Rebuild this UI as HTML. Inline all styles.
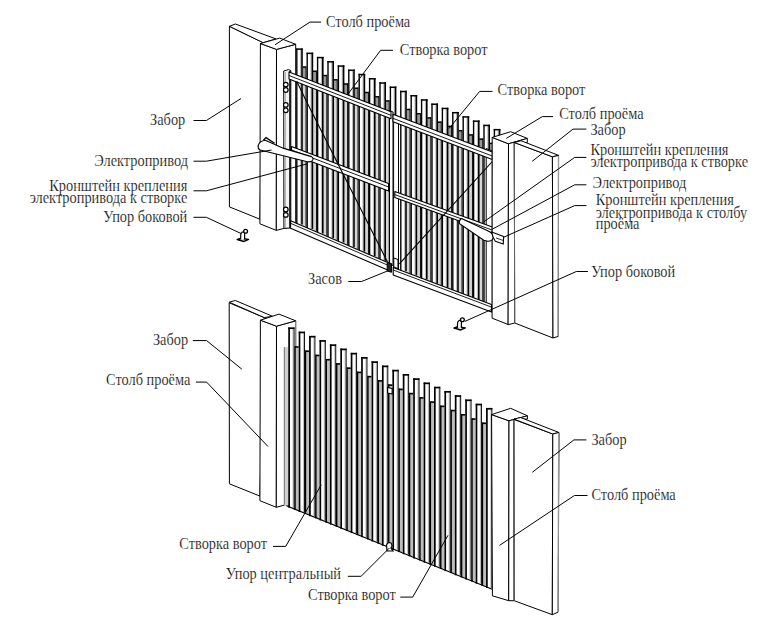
<!DOCTYPE html>
<html><head><meta charset="utf-8"><style>html,body{margin:0;padding:0;background:#fff;overflow:hidden}svg{display:block}</style></head>
<body><svg width="782" height="623" viewBox="0 0 782 623">
<rect width="782" height="623" fill="#fff"/>
<polygon points="229.4,26.3 263.2,42.7 259.9,219.2 229.4,206.9" fill="#fff" stroke="#000" stroke-width="1" stroke-linejoin="round"/>
<polygon points="229.4,26.3 235.4,24 276,38.9 263.2,42.7" fill="#fff" stroke="#000" stroke-width="1" stroke-linejoin="round"/>
<polygon points="260.4,43.5 276.5,49.4 276.3,230.4 259.9,223.8" fill="#fff" stroke="#000" stroke-width="1" stroke-linejoin="round"/>
<polygon points="276.5,49.4 295.7,44.3 295.7,226 283.9,228.4 276.3,230.4" fill="#fff" stroke="#000" stroke-width="1" stroke-linejoin="round"/>
<polygon points="260.4,43.5 279.7,38.1 295.7,44.3 276.5,49.4" fill="#fff" stroke="#000" stroke-width="1" stroke-linejoin="round"/>
<rect x="302.3" y="66.4" width="4.2" height="160.27" fill="#d6d6d6"/>
<rect x="302.3" y="66.4" width="4.2" height="13.79" fill="#999"/>
<line x1="306.3" y1="66.4" x2="306.3" y2="226.67" stroke="#000" stroke-width="1.5"/>
<line x1="302.3" y1="67.1" x2="306.9" y2="67.1" stroke="#000" stroke-width="1.4"/>
<rect x="296.1" y="48.4" width="6.3" height="176" fill="#fff"/>
<rect x="300.1" y="49.4" width="1.4" height="175" fill="#b8b8b8"/>
<line x1="296.8" y1="48.4" x2="296.8" y2="224.4" stroke="#000" stroke-width="1.4"/>
<line x1="302" y1="48.4" x2="302" y2="224.4" stroke="#000" stroke-width="1.6"/>
<line x1="296.1" y1="49.1" x2="302.8" y2="49.1" stroke="#000" stroke-width="1.5"/>
<rect x="312.7" y="70.64" width="4.2" height="160.56" fill="#d6d6d6"/>
<rect x="312.7" y="70.64" width="4.2" height="13.6" fill="#999"/>
<line x1="316.7" y1="70.64" x2="316.7" y2="231.2" stroke="#000" stroke-width="1.5"/>
<line x1="312.7" y1="71.34" x2="317.3" y2="71.34" stroke="#000" stroke-width="1.4"/>
<rect x="306.5" y="52.64" width="6.3" height="176.29" fill="#fff"/>
<rect x="310.5" y="53.64" width="1.4" height="175.29" fill="#b8b8b8"/>
<line x1="307.2" y1="52.64" x2="307.2" y2="228.93" stroke="#000" stroke-width="1.4"/>
<line x1="312.4" y1="52.64" x2="312.4" y2="228.93" stroke="#000" stroke-width="1.6"/>
<line x1="306.5" y1="53.34" x2="313.2" y2="53.34" stroke="#000" stroke-width="1.5"/>
<rect x="323.1" y="74.88" width="4.2" height="160.85" fill="#d6d6d6"/>
<rect x="323.1" y="74.88" width="4.2" height="13.42" fill="#999"/>
<line x1="327.1" y1="74.88" x2="327.1" y2="235.73" stroke="#000" stroke-width="1.5"/>
<line x1="323.1" y1="75.58" x2="327.7" y2="75.58" stroke="#000" stroke-width="1.4"/>
<rect x="316.9" y="56.88" width="6.3" height="176.58" fill="#fff"/>
<rect x="320.9" y="57.88" width="1.4" height="175.58" fill="#b8b8b8"/>
<line x1="317.6" y1="56.88" x2="317.6" y2="233.46" stroke="#000" stroke-width="1.4"/>
<line x1="322.8" y1="56.88" x2="322.8" y2="233.46" stroke="#000" stroke-width="1.6"/>
<line x1="316.9" y1="57.58" x2="323.6" y2="57.58" stroke="#000" stroke-width="1.5"/>
<rect x="333.5" y="79.12" width="4.2" height="161.14" fill="#d6d6d6"/>
<rect x="333.5" y="79.12" width="4.2" height="13.23" fill="#999"/>
<line x1="337.5" y1="79.12" x2="337.5" y2="240.26" stroke="#000" stroke-width="1.5"/>
<line x1="333.5" y1="79.82" x2="338.1" y2="79.82" stroke="#000" stroke-width="1.4"/>
<rect x="327.3" y="61.12" width="6.3" height="176.87" fill="#fff"/>
<rect x="331.3" y="62.12" width="1.4" height="175.87" fill="#b8b8b8"/>
<line x1="328" y1="61.12" x2="328" y2="237.99" stroke="#000" stroke-width="1.4"/>
<line x1="333.2" y1="61.12" x2="333.2" y2="237.99" stroke="#000" stroke-width="1.6"/>
<line x1="327.3" y1="61.82" x2="334" y2="61.82" stroke="#000" stroke-width="1.5"/>
<rect x="343.9" y="83.36" width="4.2" height="161.43" fill="#d6d6d6"/>
<rect x="343.9" y="83.36" width="4.2" height="13.05" fill="#999"/>
<line x1="347.9" y1="83.36" x2="347.9" y2="244.79" stroke="#000" stroke-width="1.5"/>
<line x1="343.9" y1="84.06" x2="348.5" y2="84.06" stroke="#000" stroke-width="1.4"/>
<rect x="337.7" y="65.36" width="6.3" height="177.16" fill="#fff"/>
<rect x="341.7" y="66.36" width="1.4" height="176.16" fill="#b8b8b8"/>
<line x1="338.4" y1="65.36" x2="338.4" y2="242.52" stroke="#000" stroke-width="1.4"/>
<line x1="343.6" y1="65.36" x2="343.6" y2="242.52" stroke="#000" stroke-width="1.6"/>
<line x1="337.7" y1="66.06" x2="344.4" y2="66.06" stroke="#000" stroke-width="1.5"/>
<rect x="354.3" y="87.6" width="4.2" height="161.72" fill="#d6d6d6"/>
<rect x="354.3" y="87.6" width="4.2" height="12.87" fill="#999"/>
<line x1="358.3" y1="87.6" x2="358.3" y2="249.32" stroke="#000" stroke-width="1.5"/>
<line x1="354.3" y1="88.3" x2="358.9" y2="88.3" stroke="#000" stroke-width="1.4"/>
<rect x="348.1" y="69.6" width="6.3" height="177.45" fill="#fff"/>
<rect x="352.1" y="70.6" width="1.4" height="176.45" fill="#b8b8b8"/>
<line x1="348.8" y1="69.6" x2="348.8" y2="247.05" stroke="#000" stroke-width="1.4"/>
<line x1="354" y1="69.6" x2="354" y2="247.05" stroke="#000" stroke-width="1.6"/>
<line x1="348.1" y1="70.3" x2="354.8" y2="70.3" stroke="#000" stroke-width="1.5"/>
<rect x="364.7" y="91.84" width="4.2" height="162.01" fill="#d6d6d6"/>
<rect x="364.7" y="91.84" width="4.2" height="12.68" fill="#999"/>
<line x1="368.7" y1="91.84" x2="368.7" y2="253.85" stroke="#000" stroke-width="1.5"/>
<line x1="364.7" y1="92.54" x2="369.3" y2="92.54" stroke="#000" stroke-width="1.4"/>
<rect x="358.5" y="73.84" width="6.3" height="177.75" fill="#fff"/>
<rect x="362.5" y="74.84" width="1.4" height="176.75" fill="#b8b8b8"/>
<line x1="359.2" y1="73.84" x2="359.2" y2="251.59" stroke="#000" stroke-width="1.4"/>
<line x1="364.4" y1="73.84" x2="364.4" y2="251.59" stroke="#000" stroke-width="1.6"/>
<line x1="358.5" y1="74.54" x2="365.2" y2="74.54" stroke="#000" stroke-width="1.5"/>
<rect x="375.1" y="96.08" width="4.2" height="162.3" fill="#d6d6d6"/>
<rect x="375.1" y="96.08" width="4.2" height="12.5" fill="#999"/>
<line x1="379.1" y1="96.08" x2="379.1" y2="258.38" stroke="#000" stroke-width="1.5"/>
<line x1="375.1" y1="96.78" x2="379.7" y2="96.78" stroke="#000" stroke-width="1.4"/>
<rect x="368.9" y="78.08" width="6.3" height="178.04" fill="#fff"/>
<rect x="372.9" y="79.08" width="1.4" height="177.04" fill="#b8b8b8"/>
<line x1="369.6" y1="78.08" x2="369.6" y2="256.12" stroke="#000" stroke-width="1.4"/>
<line x1="374.8" y1="78.08" x2="374.8" y2="256.12" stroke="#000" stroke-width="1.6"/>
<line x1="368.9" y1="78.78" x2="375.6" y2="78.78" stroke="#000" stroke-width="1.5"/>
<rect x="385.5" y="100.32" width="4.2" height="162.59" fill="#d6d6d6"/>
<rect x="385.5" y="100.32" width="4.2" height="12.31" fill="#999"/>
<line x1="389.5" y1="100.32" x2="389.5" y2="262.91" stroke="#000" stroke-width="1.5"/>
<line x1="385.5" y1="101.02" x2="390.1" y2="101.02" stroke="#000" stroke-width="1.4"/>
<rect x="379.3" y="82.32" width="6.3" height="178.33" fill="#fff"/>
<rect x="383.3" y="83.32" width="1.4" height="177.33" fill="#b8b8b8"/>
<line x1="380" y1="82.32" x2="380" y2="260.65" stroke="#000" stroke-width="1.4"/>
<line x1="385.2" y1="82.32" x2="385.2" y2="260.65" stroke="#000" stroke-width="1.6"/>
<line x1="379.3" y1="83.02" x2="386" y2="83.02" stroke="#000" stroke-width="1.5"/>
<rect x="389.7" y="86.56" width="6.3" height="180.64" fill="#fff"/>
<rect x="393.7" y="87.56" width="1.4" height="179.64" fill="#b8b8b8"/>
<line x1="390.4" y1="86.56" x2="390.4" y2="267.2" stroke="#000" stroke-width="1.4"/>
<line x1="395.6" y1="86.56" x2="395.6" y2="267.2" stroke="#000" stroke-width="1.6"/>
<line x1="389.7" y1="87.26" x2="396.4" y2="87.26" stroke="#000" stroke-width="1.5"/>
<rect x="406.3" y="108.8" width="4.2" height="164.59" fill="#d6d6d6"/>
<rect x="406.3" y="108.8" width="4.2" height="13.45" fill="#999"/>
<line x1="410.3" y1="108.8" x2="410.3" y2="273.39" stroke="#000" stroke-width="1.5"/>
<line x1="406.3" y1="109.5" x2="410.9" y2="109.5" stroke="#000" stroke-width="1.4"/>
<rect x="400.1" y="90.8" width="6.3" height="180.53" fill="#fff"/>
<rect x="404.1" y="91.8" width="1.4" height="179.53" fill="#b8b8b8"/>
<line x1="400.8" y1="90.8" x2="400.8" y2="271.33" stroke="#000" stroke-width="1.4"/>
<line x1="406" y1="90.8" x2="406" y2="271.33" stroke="#000" stroke-width="1.6"/>
<line x1="400.1" y1="91.5" x2="406.8" y2="91.5" stroke="#000" stroke-width="1.5"/>
<rect x="416.7" y="113.04" width="4.2" height="164.48" fill="#d6d6d6"/>
<rect x="416.7" y="113.04" width="4.2" height="13.17" fill="#999"/>
<line x1="420.7" y1="113.04" x2="420.7" y2="277.52" stroke="#000" stroke-width="1.5"/>
<line x1="416.7" y1="113.74" x2="421.3" y2="113.74" stroke="#000" stroke-width="1.4"/>
<rect x="410.5" y="95.04" width="6.3" height="180.41" fill="#fff"/>
<rect x="414.5" y="96.04" width="1.4" height="179.41" fill="#b8b8b8"/>
<line x1="411.2" y1="95.04" x2="411.2" y2="275.45" stroke="#000" stroke-width="1.4"/>
<line x1="416.4" y1="95.04" x2="416.4" y2="275.45" stroke="#000" stroke-width="1.6"/>
<line x1="410.5" y1="95.74" x2="417.2" y2="95.74" stroke="#000" stroke-width="1.5"/>
<rect x="427.1" y="117.28" width="4.2" height="164.36" fill="#d6d6d6"/>
<rect x="427.1" y="117.28" width="4.2" height="12.88" fill="#999"/>
<line x1="431.1" y1="117.28" x2="431.1" y2="281.64" stroke="#000" stroke-width="1.5"/>
<line x1="427.1" y1="117.98" x2="431.7" y2="117.98" stroke="#000" stroke-width="1.4"/>
<rect x="420.9" y="99.28" width="6.3" height="180.3" fill="#fff"/>
<rect x="424.9" y="100.28" width="1.4" height="179.3" fill="#b8b8b8"/>
<line x1="421.6" y1="99.28" x2="421.6" y2="279.58" stroke="#000" stroke-width="1.4"/>
<line x1="426.8" y1="99.28" x2="426.8" y2="279.58" stroke="#000" stroke-width="1.6"/>
<line x1="420.9" y1="99.98" x2="427.6" y2="99.98" stroke="#000" stroke-width="1.5"/>
<rect x="437.5" y="121.52" width="4.2" height="164.25" fill="#d6d6d6"/>
<rect x="437.5" y="121.52" width="4.2" height="12.59" fill="#999"/>
<line x1="441.5" y1="121.52" x2="441.5" y2="285.77" stroke="#000" stroke-width="1.5"/>
<line x1="437.5" y1="122.22" x2="442.1" y2="122.22" stroke="#000" stroke-width="1.4"/>
<rect x="431.3" y="103.52" width="6.3" height="180.19" fill="#fff"/>
<rect x="435.3" y="104.52" width="1.4" height="179.19" fill="#b8b8b8"/>
<line x1="432" y1="103.52" x2="432" y2="283.71" stroke="#000" stroke-width="1.4"/>
<line x1="437.2" y1="103.52" x2="437.2" y2="283.71" stroke="#000" stroke-width="1.6"/>
<line x1="431.3" y1="104.22" x2="438" y2="104.22" stroke="#000" stroke-width="1.5"/>
<rect x="447.9" y="125.76" width="4.2" height="164.14" fill="#d6d6d6"/>
<rect x="447.9" y="125.76" width="4.2" height="12.3" fill="#999"/>
<line x1="451.9" y1="125.76" x2="451.9" y2="289.9" stroke="#000" stroke-width="1.5"/>
<line x1="447.9" y1="126.46" x2="452.5" y2="126.46" stroke="#000" stroke-width="1.4"/>
<rect x="441.7" y="107.76" width="6.3" height="180.07" fill="#fff"/>
<rect x="445.7" y="108.76" width="1.4" height="179.07" fill="#b8b8b8"/>
<line x1="442.4" y1="107.76" x2="442.4" y2="287.83" stroke="#000" stroke-width="1.4"/>
<line x1="447.6" y1="107.76" x2="447.6" y2="287.83" stroke="#000" stroke-width="1.6"/>
<line x1="441.7" y1="108.46" x2="448.4" y2="108.46" stroke="#000" stroke-width="1.5"/>
<rect x="458.3" y="130" width="4.2" height="164.02" fill="#d6d6d6"/>
<rect x="458.3" y="130" width="4.2" height="12.01" fill="#999"/>
<line x1="462.3" y1="130" x2="462.3" y2="294.02" stroke="#000" stroke-width="1.5"/>
<line x1="458.3" y1="130.7" x2="462.9" y2="130.7" stroke="#000" stroke-width="1.4"/>
<rect x="452.1" y="112" width="6.3" height="179.96" fill="#fff"/>
<rect x="456.1" y="113" width="1.4" height="178.96" fill="#b8b8b8"/>
<line x1="452.8" y1="112" x2="452.8" y2="291.96" stroke="#000" stroke-width="1.4"/>
<line x1="458" y1="112" x2="458" y2="291.96" stroke="#000" stroke-width="1.6"/>
<line x1="452.1" y1="112.7" x2="458.8" y2="112.7" stroke="#000" stroke-width="1.5"/>
<rect x="468.7" y="134.24" width="4.2" height="163.91" fill="#d6d6d6"/>
<rect x="468.7" y="134.24" width="4.2" height="11.73" fill="#999"/>
<line x1="472.7" y1="134.24" x2="472.7" y2="298.15" stroke="#000" stroke-width="1.5"/>
<line x1="468.7" y1="134.94" x2="473.3" y2="134.94" stroke="#000" stroke-width="1.4"/>
<rect x="462.5" y="116.24" width="6.3" height="179.84" fill="#fff"/>
<rect x="466.5" y="117.24" width="1.4" height="178.84" fill="#b8b8b8"/>
<line x1="463.2" y1="116.24" x2="463.2" y2="296.08" stroke="#000" stroke-width="1.4"/>
<line x1="468.4" y1="116.24" x2="468.4" y2="296.08" stroke="#000" stroke-width="1.6"/>
<line x1="462.5" y1="116.94" x2="469.2" y2="116.94" stroke="#000" stroke-width="1.5"/>
<rect x="479.1" y="138.48" width="4.2" height="163.79" fill="#d6d6d6"/>
<rect x="479.1" y="138.48" width="4.2" height="11.44" fill="#999"/>
<line x1="483.1" y1="138.48" x2="483.1" y2="302.27" stroke="#000" stroke-width="1.5"/>
<line x1="479.1" y1="139.18" x2="483.7" y2="139.18" stroke="#000" stroke-width="1.4"/>
<rect x="472.9" y="120.48" width="6.3" height="179.73" fill="#fff"/>
<rect x="476.9" y="121.48" width="1.4" height="178.73" fill="#b8b8b8"/>
<line x1="473.6" y1="120.48" x2="473.6" y2="300.21" stroke="#000" stroke-width="1.4"/>
<line x1="478.8" y1="120.48" x2="478.8" y2="300.21" stroke="#000" stroke-width="1.6"/>
<line x1="472.9" y1="121.18" x2="479.6" y2="121.18" stroke="#000" stroke-width="1.5"/>
<rect x="489.5" y="142.72" width="4.2" height="163.68" fill="#d6d6d6"/>
<rect x="489.5" y="142.72" width="4.2" height="11.15" fill="#999"/>
<line x1="493.5" y1="142.72" x2="493.5" y2="306.4" stroke="#000" stroke-width="1.5"/>
<line x1="489.5" y1="143.42" x2="494.1" y2="143.42" stroke="#000" stroke-width="1.4"/>
<rect x="483.3" y="124.72" width="6.3" height="179.62" fill="#fff"/>
<rect x="487.3" y="125.72" width="1.4" height="178.62" fill="#b8b8b8"/>
<line x1="484" y1="124.72" x2="484" y2="304.34" stroke="#000" stroke-width="1.4"/>
<line x1="489.2" y1="124.72" x2="489.2" y2="304.34" stroke="#000" stroke-width="1.6"/>
<line x1="483.3" y1="125.42" x2="490" y2="125.42" stroke="#000" stroke-width="1.5"/>
<rect x="493.7" y="128.96" width="6.3" height="179.5" fill="#fff"/>
<rect x="497.7" y="129.96" width="1.4" height="178.5" fill="#b8b8b8"/>
<line x1="494.4" y1="128.96" x2="494.4" y2="308.46" stroke="#000" stroke-width="1.4"/>
<line x1="499.6" y1="128.96" x2="499.6" y2="308.46" stroke="#000" stroke-width="1.6"/>
<line x1="493.7" y1="129.66" x2="500.4" y2="129.66" stroke="#000" stroke-width="1.5"/>
<polygon points="283.7,71 288.5,69.6 290.8,70.5 290.8,228 283.9,228.4" fill="#f4f4f4" stroke="#000" stroke-width="1" stroke-linejoin="round"/>
<line x1="289.9" y1="71" x2="289.9" y2="228" stroke="#000" stroke-width="1.4"/>
<line x1="285.5" y1="72" x2="285.5" y2="228" stroke="#999" stroke-width="0.7"/>
<circle cx="285.8" cy="84.6" r="2.3" fill="#fff" stroke="#000" stroke-width="1.2"/>
<circle cx="285.8" cy="90" r="2.3" fill="#fff" stroke="#000" stroke-width="1.2"/>
<circle cx="285.8" cy="104.9" r="2.3" fill="#fff" stroke="#000" stroke-width="1.2"/>
<circle cx="285.8" cy="110.3" r="2.3" fill="#fff" stroke="#000" stroke-width="1.2"/>
<circle cx="285.8" cy="209.5" r="2.3" fill="#fff" stroke="#000" stroke-width="1.2"/>
<circle cx="285.8" cy="214.9" r="2.3" fill="#fff" stroke="#000" stroke-width="1.2"/>
<polygon points="389.5,110.5 393,112 393,265.5 389.5,264" fill="#fff" stroke="#000" stroke-width="1" stroke-linejoin="round"/>
<polygon points="393.6,114.5 398.5,116.5 398.5,270 393.6,268" fill="#fff" stroke="#000" stroke-width="1" stroke-linejoin="round"/>
<polygon points="486.2,148.5 492.3,151 492.3,307 486.2,304.5" fill="#fff" stroke="#000" stroke-width="1" stroke-linejoin="round"/>
<polygon points="289,72 391,111.8 391,118.8 289,79" fill="#fff" stroke="#000" stroke-width="1.1" stroke-linejoin="round"/>
<line x1="289" y1="75.5" x2="391" y2="115.3" stroke="#000" stroke-width="0.9"/>
<polygon points="393,114.2 492.3,151.9 492.3,159.4 393,121.7" fill="#fff" stroke="#000" stroke-width="1.1" stroke-linejoin="round"/>
<line x1="393" y1="118.33" x2="492.3" y2="156.03" stroke="#000" stroke-width="0.9"/>
<polygon points="291.5,146.6 388.6,183.6 388.6,191.1 291.5,154.1" fill="#fff" stroke="#000" stroke-width="1.1" stroke-linejoin="round"/>
<line x1="291.5" y1="149.97" x2="388.6" y2="186.97" stroke="#000" stroke-width="0.9"/>
<polygon points="394.8,191.6 492.3,227.1 492.3,233.1 394.8,197.6" fill="#fff" stroke="#000" stroke-width="1.1" stroke-linejoin="round"/>
<line x1="394.8" y1="194.6" x2="492.3" y2="230.1" stroke="#000" stroke-width="0.9"/>
<polygon points="290.6,220.7 390,263.5 390,271 290.6,228.2" fill="#fff" stroke="#000" stroke-width="1.1" stroke-linejoin="round"/>
<line x1="290.6" y1="223.32" x2="390" y2="266.12" stroke="#000" stroke-width="0.9"/>
<polygon points="393.2,267.4 491.5,304.5 491.5,312 393.2,274.9" fill="#fff" stroke="#000" stroke-width="1.1" stroke-linejoin="round"/>
<line x1="393.2" y1="270.02" x2="491.5" y2="307.12" stroke="#000" stroke-width="0.9"/>
<polyline points="296.7,81.2 306,100.4 387.5,262" fill="none" stroke="#000" stroke-width="1.1"/>
<line x1="399.4" y1="263.8" x2="492.3" y2="161.5" stroke="#000" stroke-width="1.1"/>
<path d="M265.3,140.2 L283.8,148.4 L311.4,156.6 Q314,158.5 312.5,160.5 Q311,162.3 307.3,161.7 L260.2,150 Q257.5,148.5 258.2,145.5 Q259.5,141 265.3,140.2 Z" fill="#fff" stroke="#000" stroke-width="1.1"/>
<polyline points="263.5,140 266,137.6 274.6,143.3" fill="none" stroke="#000" stroke-width="1.3"/>
<polygon points="387.2,262.5 391.5,263.5 391.5,272.3 387.2,271" fill="#222" stroke="#000" stroke-width="1" stroke-linejoin="round"/>
<polygon points="393.8,258 398,259.5 398,268.5 393.8,267" fill="#fff" stroke="#000" stroke-width="1" stroke-linejoin="round"/>
<polygon points="492.2,137.4 508.5,143.8 508.2,324.5 492.1,318.2" fill="#fff" stroke="#000" stroke-width="1" stroke-linejoin="round"/>
<polygon points="492.2,137.4 510.7,131.7 527.3,138.4 508.5,143.8" fill="#fff" stroke="#000" stroke-width="1" stroke-linejoin="round"/>
<polygon points="508.5,143.8 527.3,138.4 527.3,142.5 514.3,142.5 514.7,323 508.1,324.7" fill="#fff" stroke="#000" stroke-width="1" stroke-linejoin="round"/>
<polygon points="514.3,142.5 552.4,156.8 553,338 514.7,323" fill="#fff" stroke="#000" stroke-width="1" stroke-linejoin="round"/>
<polygon points="514.3,142.5 521,140.7 558.6,155.4 552.4,156.8" fill="#fff" stroke="#000" stroke-width="1" stroke-linejoin="round"/>
<polygon points="552.4,156.8 558.6,155.4 558.2,336.4 553,338" fill="#fff" stroke="#000" stroke-width="1" stroke-linejoin="round"/>
<line x1="514.3" y1="143" x2="514.7" y2="323" stroke="#666" stroke-width="1"/>
<line x1="558.4" y1="156" x2="558.2" y2="336" stroke="#999" stroke-width="1.2"/>
<path d="M461.5,218.6 L488.2,231 Q493.6,233.6 493.2,237.6 Q492.3,241.3 487.8,241.2 L483.8,240.3 L459.2,223.4 Q459,220 461.5,218.6 Z" fill="#fff" stroke="#000" stroke-width="1.1"/>
<polygon points="491.6,231.9 503.7,236.5 503.2,244.1 495.3,241.3 493.2,237.6" fill="#fff" stroke="#000" stroke-width="1.1" stroke-linejoin="round"/>
<line x1="496" y1="238" x2="503.4" y2="240.5" stroke="#000" stroke-width="0.8"/>
<polygon points="237.2,239.6 240.7,238.2 248.5,239.4 244,241.4" fill="#fff" stroke="#000" stroke-width="1.5" stroke-linejoin="round"/>
<path d="M240.6,239.2 L240.8,234 Q241.7,231.6 243.7,231.6 L244.6,233 L244.6,239.4" fill="#fff" stroke="#000" stroke-width="1.2"/>
<circle cx="245.6" cy="231.3" r="1.9" fill="#fff" stroke="#000" stroke-width="1.3"/>
<polygon points="454,328.1 457.5,326.7 465.3,327.9 460.8,329.9" fill="#fff" stroke="#000" stroke-width="1.5" stroke-linejoin="round"/>
<path d="M457.4,327.7 L457.6,322.5 Q458.5,320.1 460.5,320.1 L461.4,321.5 L461.4,327.9" fill="#fff" stroke="#000" stroke-width="1.2"/>
<circle cx="462.4" cy="319.8" r="1.9" fill="#fff" stroke="#000" stroke-width="1.3"/>
<polygon points="229.2,302.8 264.3,317.6 259.9,496.1 229.4,483.8" fill="#fff" stroke="#000" stroke-width="1" stroke-linejoin="round"/>
<polygon points="229.2,302.2 235.4,300.5 272.6,316.3 264.3,317.6" fill="#fff" stroke="#000" stroke-width="1" stroke-linejoin="round"/>
<polygon points="260.4,320.2 276.5,326.2 276.3,507.3 259.9,500.7" fill="#fff" stroke="#000" stroke-width="1" stroke-linejoin="round"/>
<polygon points="276.5,326.2 295.7,320.8 295.7,505 285.5,504.8 276.3,507.3" fill="#fff" stroke="#000" stroke-width="1" stroke-linejoin="round"/>
<line x1="295.7" y1="321" x2="295.7" y2="346" stroke="#999" stroke-width="1"/>
<polygon points="260.4,320.2 279,314.1 295.7,320.8 276.5,326.2" fill="#fff" stroke="#000" stroke-width="1" stroke-linejoin="round"/>
<rect x="284" y="347.1" width="4" height="158.5" fill="#d0d0d0"/>
<line x1="284.3" y1="347.1" x2="284.3" y2="504.79" stroke="#666" stroke-width="0.9"/>
<rect x="294.3" y="346.2" width="4.4" height="163.57" fill="#bdbdbd"/>
<line x1="294.9" y1="346.2" x2="294.9" y2="509.77" stroke="#000" stroke-width="1.7"/>
<line x1="294.3" y1="347" x2="298.9" y2="347" stroke="#000" stroke-width="1.6"/>
<rect x="288.3" y="327.4" width="6" height="180.35" fill="#fff"/>
<rect x="292.5" y="328.4" width="1.2" height="179.35" fill="#c0c0c0"/>
<line x1="289.1" y1="327.4" x2="289.1" y2="507.75" stroke="#000" stroke-width="1.7"/>
<line x1="294.1" y1="327.4" x2="294.1" y2="507.75" stroke="#111" stroke-width="1.0"/>
<line x1="288.3" y1="328.2" x2="294.5" y2="328.2" stroke="#000" stroke-width="1.7"/>
<rect x="304.71" y="350.44" width="4.4" height="163.55" fill="#bdbdbd"/>
<line x1="305.31" y1="350.44" x2="305.31" y2="513.99" stroke="#000" stroke-width="1.7"/>
<line x1="304.71" y1="351.24" x2="309.31" y2="351.24" stroke="#000" stroke-width="1.6"/>
<rect x="298.71" y="331.64" width="6" height="180.33" fill="#fff"/>
<rect x="302.91" y="332.64" width="1.2" height="179.33" fill="#c0c0c0"/>
<line x1="299.51" y1="331.64" x2="299.51" y2="511.97" stroke="#000" stroke-width="1.7"/>
<line x1="304.51" y1="331.64" x2="304.51" y2="511.97" stroke="#111" stroke-width="1.0"/>
<line x1="298.71" y1="332.44" x2="304.91" y2="332.44" stroke="#000" stroke-width="1.7"/>
<rect x="315.12" y="354.68" width="4.4" height="163.53" fill="#bdbdbd"/>
<line x1="315.72" y1="354.68" x2="315.72" y2="518.21" stroke="#000" stroke-width="1.7"/>
<line x1="315.12" y1="355.48" x2="319.72" y2="355.48" stroke="#000" stroke-width="1.6"/>
<rect x="309.12" y="335.88" width="6" height="180.31" fill="#fff"/>
<rect x="313.32" y="336.88" width="1.2" height="179.31" fill="#c0c0c0"/>
<line x1="309.92" y1="335.88" x2="309.92" y2="516.19" stroke="#000" stroke-width="1.7"/>
<line x1="314.92" y1="335.88" x2="314.92" y2="516.19" stroke="#111" stroke-width="1.0"/>
<line x1="309.12" y1="336.68" x2="315.32" y2="336.68" stroke="#000" stroke-width="1.7"/>
<rect x="325.53" y="358.92" width="4.4" height="163.52" fill="#bdbdbd"/>
<line x1="326.13" y1="358.92" x2="326.13" y2="522.44" stroke="#000" stroke-width="1.7"/>
<line x1="325.53" y1="359.72" x2="330.13" y2="359.72" stroke="#000" stroke-width="1.6"/>
<rect x="319.53" y="340.12" width="6" height="180.29" fill="#fff"/>
<rect x="323.73" y="341.12" width="1.2" height="179.29" fill="#c0c0c0"/>
<line x1="320.33" y1="340.12" x2="320.33" y2="520.41" stroke="#000" stroke-width="1.7"/>
<line x1="325.33" y1="340.12" x2="325.33" y2="520.41" stroke="#111" stroke-width="1.0"/>
<line x1="319.53" y1="340.92" x2="325.73" y2="340.92" stroke="#000" stroke-width="1.7"/>
<rect x="335.94" y="363.16" width="4.4" height="163.5" fill="#bdbdbd"/>
<line x1="336.54" y1="363.16" x2="336.54" y2="526.66" stroke="#000" stroke-width="1.7"/>
<line x1="335.94" y1="363.96" x2="340.54" y2="363.96" stroke="#000" stroke-width="1.6"/>
<rect x="329.94" y="344.36" width="6" height="180.27" fill="#fff"/>
<rect x="334.14" y="345.36" width="1.2" height="179.27" fill="#c0c0c0"/>
<line x1="330.74" y1="344.36" x2="330.74" y2="524.63" stroke="#000" stroke-width="1.7"/>
<line x1="335.74" y1="344.36" x2="335.74" y2="524.63" stroke="#111" stroke-width="1.0"/>
<line x1="329.94" y1="345.16" x2="336.14" y2="345.16" stroke="#000" stroke-width="1.7"/>
<rect x="346.35" y="367.4" width="4.4" height="163.48" fill="#bdbdbd"/>
<line x1="346.95" y1="367.4" x2="346.95" y2="530.88" stroke="#000" stroke-width="1.7"/>
<line x1="346.35" y1="368.2" x2="350.95" y2="368.2" stroke="#000" stroke-width="1.6"/>
<rect x="340.35" y="348.6" width="6" height="180.25" fill="#fff"/>
<rect x="344.55" y="349.6" width="1.2" height="179.25" fill="#c0c0c0"/>
<line x1="341.15" y1="348.6" x2="341.15" y2="528.85" stroke="#000" stroke-width="1.7"/>
<line x1="346.15" y1="348.6" x2="346.15" y2="528.85" stroke="#111" stroke-width="1.0"/>
<line x1="340.35" y1="349.4" x2="346.55" y2="349.4" stroke="#000" stroke-width="1.7"/>
<rect x="356.76" y="371.64" width="4.4" height="163.46" fill="#bdbdbd"/>
<line x1="357.36" y1="371.64" x2="357.36" y2="535.1" stroke="#000" stroke-width="1.7"/>
<line x1="356.76" y1="372.44" x2="361.36" y2="372.44" stroke="#000" stroke-width="1.6"/>
<rect x="350.76" y="352.84" width="6" height="180.23" fill="#fff"/>
<rect x="354.96" y="353.84" width="1.2" height="179.23" fill="#c0c0c0"/>
<line x1="351.56" y1="352.84" x2="351.56" y2="533.07" stroke="#000" stroke-width="1.7"/>
<line x1="356.56" y1="352.84" x2="356.56" y2="533.07" stroke="#111" stroke-width="1.0"/>
<line x1="350.76" y1="353.64" x2="356.96" y2="353.64" stroke="#000" stroke-width="1.7"/>
<rect x="367.17" y="375.88" width="4.4" height="163.44" fill="#bdbdbd"/>
<line x1="367.77" y1="375.88" x2="367.77" y2="539.32" stroke="#000" stroke-width="1.7"/>
<line x1="367.17" y1="376.68" x2="371.77" y2="376.68" stroke="#000" stroke-width="1.6"/>
<rect x="361.17" y="357.08" width="6" height="180.21" fill="#fff"/>
<rect x="365.37" y="358.08" width="1.2" height="179.21" fill="#c0c0c0"/>
<line x1="361.97" y1="357.08" x2="361.97" y2="537.29" stroke="#000" stroke-width="1.7"/>
<line x1="366.97" y1="357.08" x2="366.97" y2="537.29" stroke="#111" stroke-width="1.0"/>
<line x1="361.17" y1="357.88" x2="367.37" y2="357.88" stroke="#000" stroke-width="1.7"/>
<rect x="377.58" y="380.12" width="4.4" height="163.42" fill="#bdbdbd"/>
<line x1="378.18" y1="380.12" x2="378.18" y2="543.54" stroke="#000" stroke-width="1.7"/>
<line x1="377.58" y1="380.92" x2="382.18" y2="380.92" stroke="#000" stroke-width="1.6"/>
<rect x="371.58" y="361.32" width="6" height="180.19" fill="#fff"/>
<rect x="375.78" y="362.32" width="1.2" height="179.19" fill="#c0c0c0"/>
<line x1="372.38" y1="361.32" x2="372.38" y2="541.51" stroke="#000" stroke-width="1.7"/>
<line x1="377.38" y1="361.32" x2="377.38" y2="541.51" stroke="#111" stroke-width="1.0"/>
<line x1="371.58" y1="362.12" x2="377.78" y2="362.12" stroke="#000" stroke-width="1.7"/>
<rect x="387.99" y="384.36" width="4.4" height="163.4" fill="#bdbdbd"/>
<line x1="388.59" y1="384.36" x2="388.59" y2="547.76" stroke="#000" stroke-width="1.7"/>
<line x1="387.99" y1="385.16" x2="392.59" y2="385.16" stroke="#000" stroke-width="1.6"/>
<rect x="381.99" y="365.56" width="6" height="180.17" fill="#fff"/>
<rect x="386.19" y="366.56" width="1.2" height="179.17" fill="#c0c0c0"/>
<line x1="382.79" y1="365.56" x2="382.79" y2="545.73" stroke="#000" stroke-width="1.7"/>
<line x1="387.79" y1="365.56" x2="387.79" y2="545.73" stroke="#111" stroke-width="1.0"/>
<line x1="381.99" y1="366.36" x2="388.19" y2="366.36" stroke="#000" stroke-width="1.7"/>
<rect x="398.4" y="388.6" width="4.4" height="163.38" fill="#bdbdbd"/>
<line x1="399" y1="388.6" x2="399" y2="551.98" stroke="#000" stroke-width="1.7"/>
<line x1="398.4" y1="389.4" x2="403" y2="389.4" stroke="#000" stroke-width="1.6"/>
<rect x="392.4" y="369.8" width="6" height="180.15" fill="#fff"/>
<rect x="396.6" y="370.8" width="1.2" height="179.15" fill="#c0c0c0"/>
<line x1="393.2" y1="369.8" x2="393.2" y2="549.95" stroke="#000" stroke-width="1.7"/>
<line x1="398.2" y1="369.8" x2="398.2" y2="549.95" stroke="#111" stroke-width="1.0"/>
<line x1="392.4" y1="370.6" x2="398.6" y2="370.6" stroke="#000" stroke-width="1.7"/>
<rect x="408.81" y="392.84" width="4.4" height="163.36" fill="#bdbdbd"/>
<line x1="409.41" y1="392.84" x2="409.41" y2="556.2" stroke="#000" stroke-width="1.7"/>
<line x1="408.81" y1="393.64" x2="413.41" y2="393.64" stroke="#000" stroke-width="1.6"/>
<rect x="402.81" y="374.04" width="6" height="180.13" fill="#fff"/>
<rect x="407.01" y="375.04" width="1.2" height="179.13" fill="#c0c0c0"/>
<line x1="403.61" y1="374.04" x2="403.61" y2="554.17" stroke="#000" stroke-width="1.7"/>
<line x1="408.61" y1="374.04" x2="408.61" y2="554.17" stroke="#111" stroke-width="1.0"/>
<line x1="402.81" y1="374.84" x2="409.01" y2="374.84" stroke="#000" stroke-width="1.7"/>
<rect x="419.22" y="397.08" width="4.4" height="163.34" fill="#bdbdbd"/>
<line x1="419.82" y1="397.08" x2="419.82" y2="560.42" stroke="#000" stroke-width="1.7"/>
<line x1="419.22" y1="397.88" x2="423.82" y2="397.88" stroke="#000" stroke-width="1.6"/>
<rect x="413.22" y="378.28" width="6" height="180.11" fill="#fff"/>
<rect x="417.42" y="379.28" width="1.2" height="179.11" fill="#c0c0c0"/>
<line x1="414.02" y1="378.28" x2="414.02" y2="558.39" stroke="#000" stroke-width="1.7"/>
<line x1="419.02" y1="378.28" x2="419.02" y2="558.39" stroke="#111" stroke-width="1.0"/>
<line x1="413.22" y1="379.08" x2="419.42" y2="379.08" stroke="#000" stroke-width="1.7"/>
<rect x="429.63" y="401.32" width="4.4" height="163.32" fill="#bdbdbd"/>
<line x1="430.23" y1="401.32" x2="430.23" y2="564.64" stroke="#000" stroke-width="1.7"/>
<line x1="429.63" y1="402.12" x2="434.23" y2="402.12" stroke="#000" stroke-width="1.6"/>
<rect x="423.63" y="382.52" width="6" height="180.09" fill="#fff"/>
<rect x="427.83" y="383.52" width="1.2" height="179.09" fill="#c0c0c0"/>
<line x1="424.43" y1="382.52" x2="424.43" y2="562.61" stroke="#000" stroke-width="1.7"/>
<line x1="429.43" y1="382.52" x2="429.43" y2="562.61" stroke="#111" stroke-width="1.0"/>
<line x1="423.63" y1="383.32" x2="429.83" y2="383.32" stroke="#000" stroke-width="1.7"/>
<rect x="440.04" y="405.56" width="4.4" height="163.3" fill="#bdbdbd"/>
<line x1="440.64" y1="405.56" x2="440.64" y2="568.86" stroke="#000" stroke-width="1.7"/>
<line x1="440.04" y1="406.36" x2="444.64" y2="406.36" stroke="#000" stroke-width="1.6"/>
<rect x="434.04" y="386.76" width="6" height="180.08" fill="#fff"/>
<rect x="438.24" y="387.76" width="1.2" height="179.08" fill="#c0c0c0"/>
<line x1="434.84" y1="386.76" x2="434.84" y2="566.84" stroke="#000" stroke-width="1.7"/>
<line x1="439.84" y1="386.76" x2="439.84" y2="566.84" stroke="#111" stroke-width="1.0"/>
<line x1="434.04" y1="387.56" x2="440.24" y2="387.56" stroke="#000" stroke-width="1.7"/>
<rect x="450.45" y="409.8" width="4.4" height="163.28" fill="#bdbdbd"/>
<line x1="451.05" y1="409.8" x2="451.05" y2="573.08" stroke="#000" stroke-width="1.7"/>
<line x1="450.45" y1="410.6" x2="455.05" y2="410.6" stroke="#000" stroke-width="1.6"/>
<rect x="444.45" y="391" width="6" height="180.06" fill="#fff"/>
<rect x="448.65" y="392" width="1.2" height="179.06" fill="#c0c0c0"/>
<line x1="445.25" y1="391" x2="445.25" y2="571.06" stroke="#000" stroke-width="1.7"/>
<line x1="450.25" y1="391" x2="450.25" y2="571.06" stroke="#111" stroke-width="1.0"/>
<line x1="444.45" y1="391.8" x2="450.65" y2="391.8" stroke="#000" stroke-width="1.7"/>
<rect x="460.86" y="414.04" width="4.4" height="163.26" fill="#bdbdbd"/>
<line x1="461.46" y1="414.04" x2="461.46" y2="577.3" stroke="#000" stroke-width="1.7"/>
<line x1="460.86" y1="414.84" x2="465.46" y2="414.84" stroke="#000" stroke-width="1.6"/>
<rect x="454.86" y="395.24" width="6" height="180.04" fill="#fff"/>
<rect x="459.06" y="396.24" width="1.2" height="179.04" fill="#c0c0c0"/>
<line x1="455.66" y1="395.24" x2="455.66" y2="575.28" stroke="#000" stroke-width="1.7"/>
<line x1="460.66" y1="395.24" x2="460.66" y2="575.28" stroke="#111" stroke-width="1.0"/>
<line x1="454.86" y1="396.04" x2="461.06" y2="396.04" stroke="#000" stroke-width="1.7"/>
<rect x="471.27" y="418.28" width="4.4" height="163.24" fill="#bdbdbd"/>
<line x1="471.87" y1="418.28" x2="471.87" y2="581.52" stroke="#000" stroke-width="1.7"/>
<line x1="471.27" y1="419.08" x2="475.87" y2="419.08" stroke="#000" stroke-width="1.6"/>
<rect x="465.27" y="399.48" width="6" height="180.02" fill="#fff"/>
<rect x="469.47" y="400.48" width="1.2" height="179.02" fill="#c0c0c0"/>
<line x1="466.07" y1="399.48" x2="466.07" y2="579.5" stroke="#000" stroke-width="1.7"/>
<line x1="471.07" y1="399.48" x2="471.07" y2="579.5" stroke="#111" stroke-width="1.0"/>
<line x1="465.27" y1="400.28" x2="471.47" y2="400.28" stroke="#000" stroke-width="1.7"/>
<rect x="481.68" y="422.52" width="4.4" height="163.23" fill="#bdbdbd"/>
<line x1="482.28" y1="422.52" x2="482.28" y2="585.75" stroke="#000" stroke-width="1.7"/>
<line x1="481.68" y1="423.32" x2="486.28" y2="423.32" stroke="#000" stroke-width="1.6"/>
<rect x="475.68" y="403.72" width="6" height="180" fill="#fff"/>
<rect x="479.88" y="404.72" width="1.2" height="179" fill="#c0c0c0"/>
<line x1="476.48" y1="403.72" x2="476.48" y2="583.72" stroke="#000" stroke-width="1.7"/>
<line x1="481.48" y1="403.72" x2="481.48" y2="583.72" stroke="#111" stroke-width="1.0"/>
<line x1="475.68" y1="404.52" x2="481.88" y2="404.52" stroke="#000" stroke-width="1.7"/>
<rect x="486.09" y="407.96" width="6" height="179.98" fill="#fff"/>
<rect x="490.29" y="408.96" width="1.2" height="178.98" fill="#c0c0c0"/>
<line x1="486.89" y1="407.96" x2="486.89" y2="587.94" stroke="#000" stroke-width="1.7"/>
<line x1="491.89" y1="407.96" x2="491.89" y2="587.94" stroke="#111" stroke-width="1.0"/>
<line x1="486.09" y1="408.76" x2="492.29" y2="408.76" stroke="#000" stroke-width="1.7"/>
<line x1="286.5" y1="505.8" x2="492.2" y2="589.2" stroke="#000" stroke-width="1.2"/>
<polygon points="491.6,414.6 509,420.8 508.7,600.7 492.4,595.8" fill="#fff" stroke="#000" stroke-width="1" stroke-linejoin="round"/>
<polygon points="491.6,414.6 510.7,408.3 527.4,415.8 509,420.8" fill="#fff" stroke="#000" stroke-width="1" stroke-linejoin="round"/>
<polygon points="509,420.8 527.4,415.8 527.4,419.1 514,419.1 514.2,600.7 508.7,600.7" fill="#fff" stroke="#000" stroke-width="1" stroke-linejoin="round"/>
<polygon points="514,419.5 552.8,434 552.3,614.7 514.2,600.7" fill="#fff" stroke="#000" stroke-width="1" stroke-linejoin="round"/>
<polygon points="514,419.1 520.5,417.5 559,432.5 552.8,434" fill="#fff" stroke="#000" stroke-width="1" stroke-linejoin="round"/>
<polygon points="552.8,434 559,432.5 558.1,612.1 552.3,614.7" fill="#fff" stroke="#000" stroke-width="1" stroke-linejoin="round"/>
<line x1="514" y1="420" x2="514.2" y2="600.7" stroke="#666" stroke-width="1"/>
<line x1="558.6" y1="433" x2="558.1" y2="612" stroke="#999" stroke-width="1.2"/>
<polygon points="387.6,387.5 392.2,388.5 392.2,394 387.6,393" fill="#fff" stroke="#000" stroke-width="1.2" stroke-linejoin="round"/>
<path d="M386.5,545 Q388,541.5 391,543 Q393,546 391,548 L393,551 L387,551 Z" fill="#fff" stroke="#000" stroke-width="1.2"/>
<polyline points="275,44.8 309.9,22.1 321.1,22.1" fill="none" stroke="#000" stroke-width="1"/>
<polyline points="348.3,93.7 380.6,50.3 393,50.3" fill="none" stroke="#000" stroke-width="1"/>
<polyline points="449,128.5 479.7,91.4 492.5,91.4" fill="none" stroke="#000" stroke-width="1"/>
<polyline points="506.3,138.4 542.3,116.6 553.1,116.6" fill="none" stroke="#000" stroke-width="1"/>
<polyline points="532.2,161.3 573,129.1 586.4,129.1" fill="none" stroke="#000" stroke-width="1"/>
<polyline points="483.6,222 574.7,157.4 586.4,157.4" fill="none" stroke="#000" stroke-width="1"/>
<polyline points="492.3,229.2 574.7,184.8 586.4,184.8" fill="none" stroke="#000" stroke-width="1"/>
<polyline points="503.8,237.2 574.7,205.6 586.4,205.6" fill="none" stroke="#000" stroke-width="1"/>
<polyline points="464.9,321.4 576.3,271.5 587.9,271.5" fill="none" stroke="#000" stroke-width="1"/>
<polyline points="241,98.5 206.4,120.5 193.5,120.5" fill="none" stroke="#000" stroke-width="1"/>
<polyline points="271.5,150 206.4,161.2 193.5,161.2" fill="none" stroke="#000" stroke-width="1"/>
<polyline points="307.3,163.8 206.4,190.8 193.5,190.8" fill="none" stroke="#000" stroke-width="1"/>
<polyline points="241.2,233.6 206.4,217.3 193.5,217.3" fill="none" stroke="#000" stroke-width="1"/>
<polyline points="388.2,270.7 361.6,281.5 348.3,281.5" fill="none" stroke="#000" stroke-width="1"/>
<polyline points="241.9,369.2 206.6,340.6 192.8,340.6" fill="none" stroke="#000" stroke-width="1"/>
<polyline points="268,446.5 206.6,382.1 195.9,382.1" fill="none" stroke="#000" stroke-width="1"/>
<polyline points="532.3,472.3 573.9,439.9 586.4,439.9" fill="none" stroke="#000" stroke-width="1"/>
<polyline points="499.5,545.4 574.4,495.5 587.5,495.5" fill="none" stroke="#000" stroke-width="1"/>
<polyline points="321.2,484.9 285.7,546.4 273,546.4" fill="none" stroke="#000" stroke-width="1"/>
<polyline points="389.4,548 361.1,576.3 347.8,576.3" fill="none" stroke="#000" stroke-width="1"/>
<polyline points="448,535.3 412.7,597.1 400.3,597.1" fill="none" stroke="#000" stroke-width="1"/>
<g style="font-family:'Liberation Serif',serif" font-size="15.8" fill="#000" stroke="#fff" stroke-width="0.22">
<text transform="translate(325.9,26.9) scale(0.91,1)">Столб проёма</text>
<text transform="translate(399.8,54.7) scale(0.91,1)">Створка ворот</text>
<text transform="translate(497.6,94.5) scale(0.91,1)">Створка ворот</text>
<text transform="translate(559.2,119.2) scale(0.91,1)">Столб проёма</text>
<text transform="translate(590.4,134.7) scale(0.91,1)">Забор</text>
<text transform="translate(590.4,155.1) scale(0.91,1)">Кронштейн крепления</text>
<text transform="translate(590.4,166.5) scale(0.91,1)">электропривода к створке</text>
<text transform="translate(592.6,187.6) scale(0.91,1)">Электропривод</text>
<text transform="translate(595.7,205.2) scale(0.91,1)">Кронштейн крепления</text>
<text transform="translate(595.7,217.5) scale(0.91,1)">электропривода к столбу</text>
<text transform="translate(595.7,229) scale(0.91,1)">проёма</text>
<text transform="translate(591.2,276.5) scale(0.91,1)">Упор боковой</text>
<text transform="translate(308,284.3) scale(0.91,1)">Засов</text>
<text transform="translate(152.9,345.2) scale(0.91,1)">Забор</text>
<text transform="translate(106,385.2) scale(0.91,1)">Столб проёма</text>
<text transform="translate(591.4,445.4) scale(0.91,1)">Забор</text>
<text transform="translate(591.4,499.8) scale(0.91,1)">Столб проёма</text>
<text transform="translate(179.3,549) scale(0.91,1)">Створка ворот</text>
<text transform="translate(225.8,579) scale(0.91,1)">Упор центральный</text>
<text transform="translate(308,599.6) scale(0.91,1)">Створка ворот</text>
<text transform="translate(185.3,124.8) scale(0.91,1)" text-anchor="end">Забор</text>
<text transform="translate(188,165.5) scale(0.91,1)" text-anchor="end">Электропривод</text>
<text transform="translate(187.3,191.2) scale(0.91,1)" text-anchor="end">Кронштейн крепления</text>
<text transform="translate(187.3,203.1) scale(0.91,1)" text-anchor="end">электропривода к створке</text>
<text transform="translate(187.3,222) scale(0.91,1)" text-anchor="end">Упор боковой</text>
</g>
</svg></body></html>
